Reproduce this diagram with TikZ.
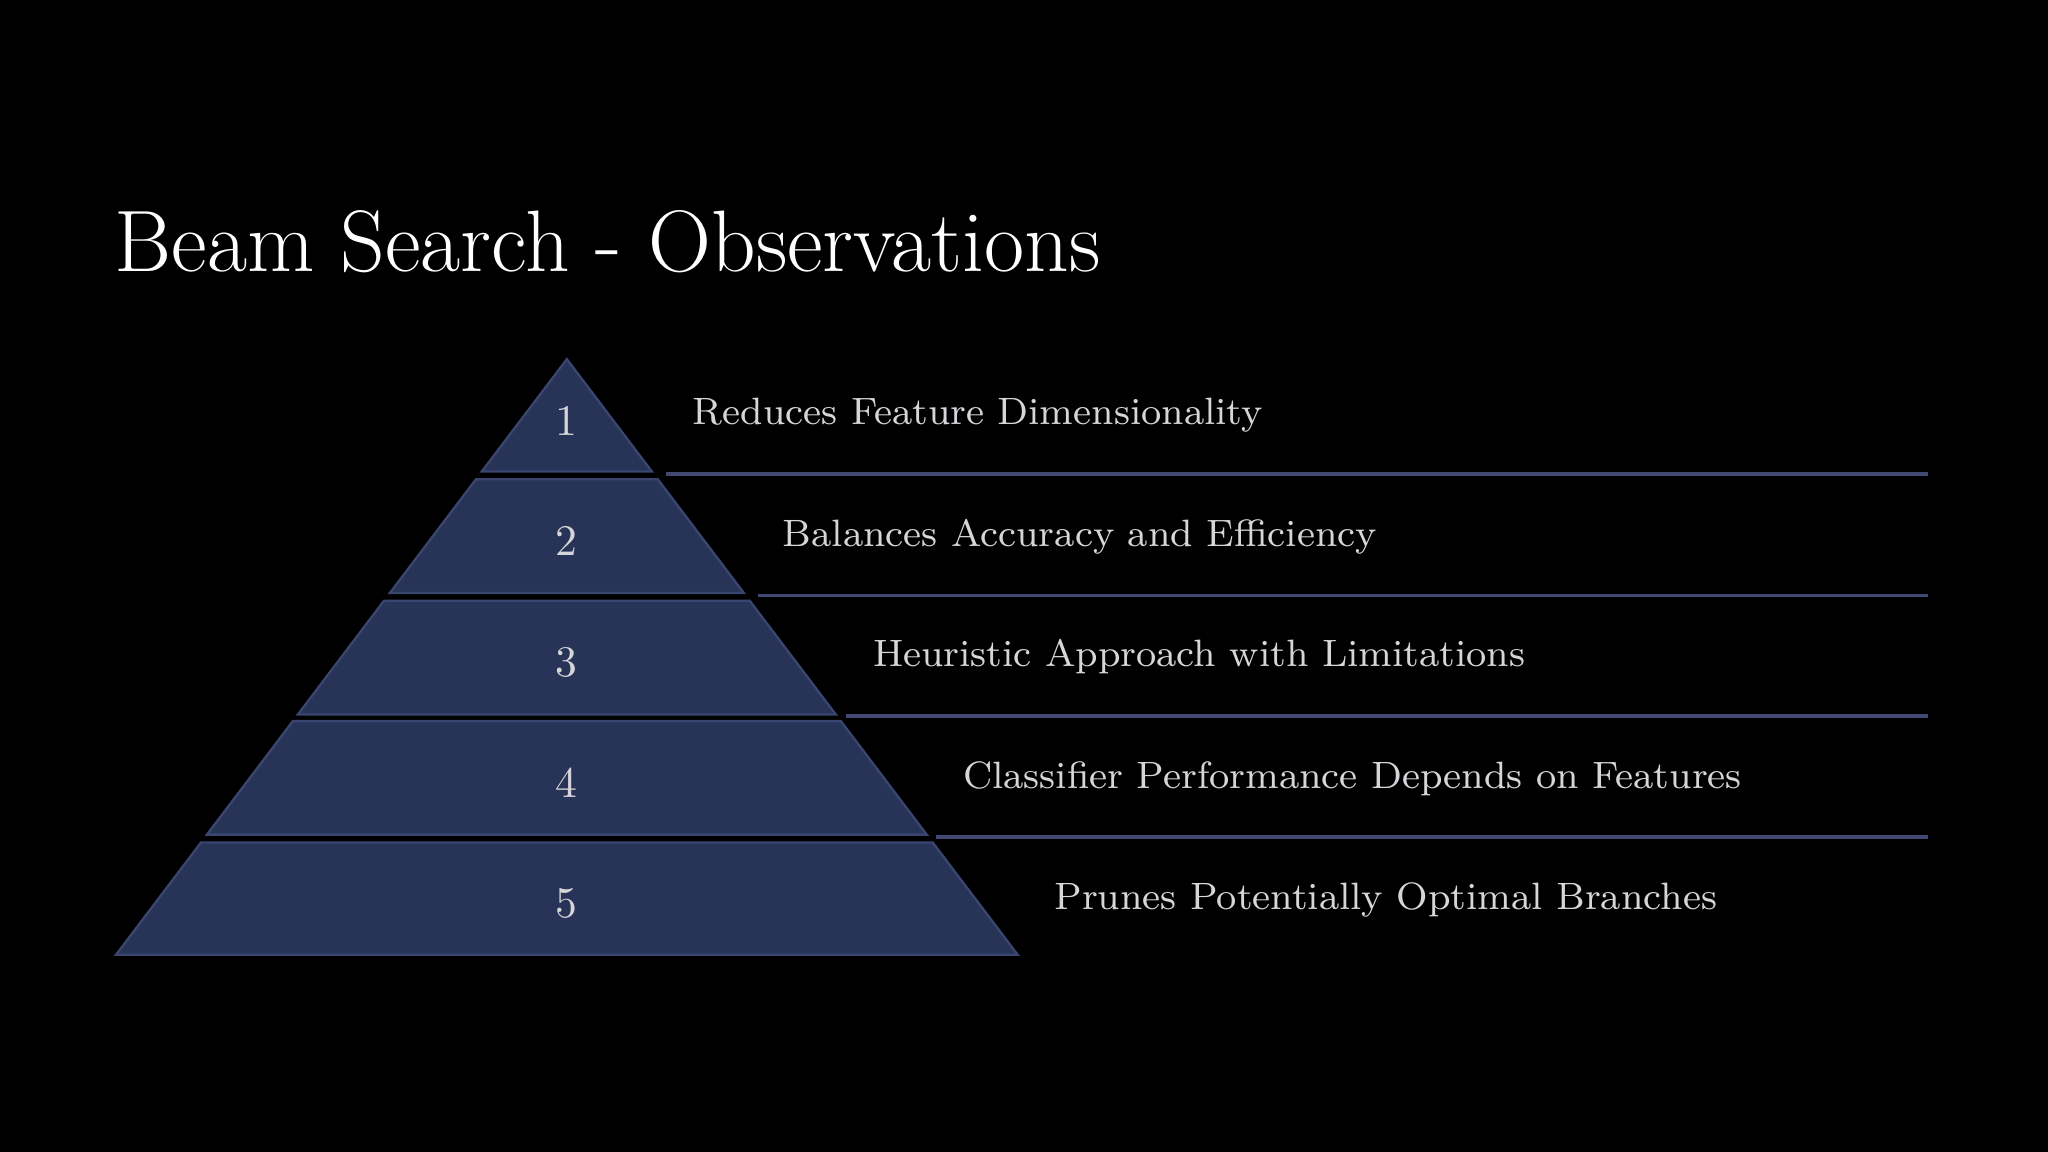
\documentclass[tikz,border=0pt]{standalone}
\usepackage{fontspec}
\begin{document}
\begin{tikzpicture}[x=0.01cm,y=-0.01cm,
  tier/.style={fill=tierfill,draw=tieredge,line width=0.5pt},
  rule/.style={draw=ruleclr,line width=0.8pt},
  num/.style={text=txt,font=\fontsize{9.5}{11}\selectfont},
  lab/.style={text=txt,font=\fontsize{8.3}{10}\selectfont,anchor=west}]
\definecolor{tierfill}{HTML}{283358}
\definecolor{tieredge}{HTML}{3A4670}
\definecolor{ruleclr}{HTML}{424874}
\definecolor{txt}{HTML}{D6D6DA}
\fill[black] (0,0) rectangle (1568,882);
\useasboundingbox (0,0) rectangle (1568,882);
\node[anchor=base west,text=white,font=\fontsize{19}{22}\selectfont,inner sep=0] (title) at (87,208) {Beam Search - Observations};
\foreach \i/\t/\b in {1/275/361,2/367/454,3/460/547,4/552/639,5/645/731}{
  \pgfmathsetmacro\wt{0.757*(\t-275)}
  \pgfmathsetmacro\wb{0.757*(\b-275)}
  \draw[tier] (434-\wt,\t) -- (434+\wt,\t) -- (434+\wb,\b) -- (434-\wb,\b) -- cycle;
  \node[num] (n\i) at (434,{(\t+\b)/2+4}) {\i};
}
\foreach \y/\x in {363/510,456/580,548/648,641/717}{
  \coordinate (ra) at (\x,\y); \coordinate (rb) at (1476,\y);
  \draw[rule] (ra) -- (rb);
}
\node[lab] (l1) at (518,318) {Reduces Feature Dimensionality};
\node[lab] (l2) at (587,411) {Balances Accuracy and Efficiency};
\node[lab] (l3) at (656,503) {Heuristic Approach with Limitations};
\node[lab] (l4) at (725,596) {Classifier Performance Depends on Features};
\node[lab] (l5) at (795,689) {Prunes Potentially Optimal Branches};
\end{tikzpicture}
\end{document}
